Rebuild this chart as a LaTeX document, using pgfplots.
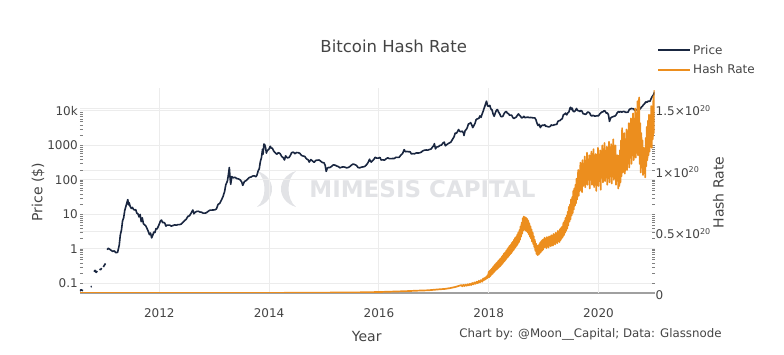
\documentclass[border=0pt]{standalone}
\usepackage{fontspec}
\setmainfont{DejaVu Sans}
\usepackage{pgfplots}
\pgfplotsset{compat=1.18}
\usepackage{pgfplotstable}
\definecolor{cprice}{RGB}{25,38,64}
\definecolor{chash}{RGB}{236,142,30}
\definecolor{ctext}{RGB}{68,68,68}
\definecolor{cgrid}{RGB}{236,236,236}
\definecolor{czero}{RGB}{160,160,160}
\definecolor{cwm}{RGB}{226,227,230}

\pgfplotstableread{
year price
2010.555 0.060
2010.57 0.066
2010.59 0.064
2010.61 0.062
2010.62 nan
2010.75 0.080
2010.77 0.082
2010.78 nan
2010.81 0.22
2010.83 0.24
2010.85 0.21
2010.87 0.23
2010.88 nan
2010.91 0.26
2010.93 0.25
2010.95 0.28
2010.96 nan
2010.98 0.30
2011.00 0.34
2011.02 0.38
2011.03 nan
2011.05 0.95
2011.07 1.05
2011.09 1.00
2011.12 0.92
2011.15 0.85
2011.18 0.88
2011.21 0.78
2011.24 0.80
2011.27 1.3
2011.29 2.6
2011.31 3.5
2011.33 6.5
2011.35 8.0
2011.37 13
2011.39 17
2011.41 22
2011.425 27
2011.44 19
2011.45 22
2011.47 17
2011.49 15
2011.51 16
2011.53 14
2011.55 13.5
2011.57 13.8
2011.59 11
2011.61 10.5
2011.63 8.5
2011.65 10
2011.67 6.2
2011.69 8
2011.71 5.4
2011.73 5.0
2011.75 4.8
2011.78 3.8
2011.80 3.2
2011.82 2.6
2011.84 2.9
2011.86 2.1
2011.88 2.5
2011.90 3.1
2011.92 3.0
2011.94 3.9
2011.96 3.8
2011.98 4.5
2012.00 5.3
2012.02 6.5
2012.04 6.9
2012.06 5.8
2012.08 5.9
2012.10 5.6
2012.12 4.6
2012.14 4.9
2012.16 4.9
2012.19 4.9
2012.22 4.6
2012.25 4.8
2012.28 5.0
2012.31 4.9
2012.34 5.1
2012.37 5.1
2012.40 5.3
2012.43 5.9
2012.46 6.6
2012.49 7.3
2012.52 8.8
2012.55 9.2
2012.58 11
2012.61 13.5
2012.63 10.5
2012.65 11.5
2012.68 12.3
2012.71 12.4
2012.74 11.8
2012.77 11.6
2012.80 10.9
2012.83 10.9
2012.86 11.3
2012.89 12.4
2012.92 13.3
2012.95 13.4
2012.98 13.5
2013.01 13.6
2013.04 14.5
2013.07 19.5
2013.10 21
2013.13 26
2013.16 33
2013.19 47
2013.21 72
2013.24 93
2013.26 150
2013.275 230
2013.29 110
2013.30 75
2013.32 125
2013.35 116
2013.38 120
2013.41 110
2013.44 108
2013.47 102
2013.50 88
2013.52 70
2013.55 90
2013.58 96
2013.61 106
2013.64 118
2013.67 122
2013.70 130
2013.73 132
2013.76 124
2013.78 140
2013.80 185
2013.82 210
2013.84 340
2013.86 440
2013.88 780
2013.89 560
2013.905 1100
2013.92 1050
2013.935 870
2013.95 600
2013.96 680
2013.98 740
2014.00 800
2014.02 950
2014.04 840
2014.06 830
2014.08 700
2014.11 620
2014.14 560
2014.17 620
2014.20 580
2014.23 480
2014.26 440
2014.28 380
2014.30 500
2014.33 440
2014.36 445
2014.39 525
2014.41 620
2014.44 640
2014.47 580
2014.50 625
2014.53 620
2014.56 590
2014.59 515
2014.62 495
2014.65 480
2014.68 410
2014.71 385
2014.73 330
2014.76 390
2014.79 355
2014.82 325
2014.85 370
2014.88 375
2014.91 380
2014.94 350
2014.97 320
2015.00 315
2015.02 270
2015.04 178
2015.06 220
2015.08 230
2015.11 230
2015.14 250
2015.17 275
2015.20 270
2015.23 255
2015.26 245
2015.29 225
2015.32 235
2015.35 240
2015.38 235
2015.41 225
2015.44 230
2015.47 245
2015.50 270
2015.53 290
2015.56 280
2015.59 265
2015.62 230
2015.65 225
2015.68 235
2015.71 240
2015.74 245
2015.77 270
2015.80 315
2015.83 400
2015.84 360
2015.86 330
2015.88 360
2015.91 400
2015.93 455
2015.96 430
2015.99 430
2016.02 450
2016.04 380
2016.07 385
2016.10 375
2016.13 410
2016.16 440
2016.19 415
2016.22 415
2016.25 420
2016.28 420
2016.31 455
2016.34 450
2016.37 455
2016.40 530
2016.43 580
2016.46 760
2016.48 660
2016.51 670
2016.54 660
2016.57 655
2016.59 570
2016.62 580
2016.65 575
2016.68 610
2016.71 605
2016.74 610
2016.77 640
2016.80 700
2016.83 730
2016.86 740
2016.89 735
2016.92 765
2016.95 790
2016.98 920
2017.00 1000
2017.01 1130
2017.03 800
2017.05 900
2017.08 920
2017.11 1000
2017.14 1030
2017.17 1190
2017.19 1250
2017.21 980
2017.23 1040
2017.26 1130
2017.29 1200
2017.31 1250
2017.34 1500
2017.37 1800
2017.39 2300
2017.41 2250
2017.43 2500
2017.45 2900
2017.47 2600
2017.49 2500
2017.52 2600
2017.54 2300
2017.55 1950
2017.57 2700
2017.59 2900
2017.61 3300
2017.63 4200
2017.65 4300
2017.67 4600
2017.69 4000
2017.71 3300
2017.73 3800
2017.75 4350
2017.77 5600
2017.79 5900
2017.82 6100
2017.84 7200
2017.86 6500
2017.88 8200
2017.90 9900
2017.91 11200
2017.93 13800
2017.95 17200
2017.96 19300
2017.98 14000
2018.00 13800
2018.02 14500
2018.04 11400
2018.06 10800
2018.08 8200
2018.10 7000
2018.12 8800
2018.14 10500
2018.16 11000
2018.18 9200
2018.20 8300
2018.22 7000
2018.24 6800
2018.26 7100
2018.28 8400
2018.30 9300
2018.32 9700
2018.34 8600
2018.36 8400
2018.38 7500
2018.40 7600
2018.42 7500
2018.44 6400
2018.46 6100
2018.48 6400
2018.50 6600
2018.52 7400
2018.54 8200
2018.56 7600
2018.58 7000
2018.60 6300
2018.62 6500
2018.64 7000
2018.66 6400
2018.68 6500
2018.70 6600
2018.72 6600
2018.74 6400
2018.76 6500
2018.78 6450
2018.80 6350
2018.84 6300
2018.86 5600
2018.88 4400
2018.90 3800
2018.92 4100
2018.94 3300
2018.96 3700
2018.98 3900
2019.00 3800
2019.02 4000
2019.04 3600
2019.06 3600
2019.08 3500
2019.10 3450
2019.12 3600
2019.14 3950
2019.16 3800
2019.18 3900
2019.20 4000
2019.22 4050
2019.24 4100
2019.26 5000
2019.28 5200
2019.30 5300
2019.32 5700
2019.34 6000
2019.36 7800
2019.38 8000
2019.40 8700
2019.42 7700
2019.44 8800
2019.46 9300
2019.48 12000
2019.49 12800
2019.51 11000
2019.52 12100
2019.54 9800
2019.56 9500
2019.58 10400
2019.60 11800
2019.62 10300
2019.64 10200
2019.66 9600
2019.68 10400
2019.70 9800
2019.72 8300
2019.74 8200
2019.76 8000
2019.78 8300
2019.80 9300
2019.82 9200
2019.84 8700
2019.86 7400
2019.88 7200
2019.90 7500
2019.92 7200
2019.94 7100
2019.96 7200
2019.98 7300
2020.00 7200
2020.02 8100
2020.04 8700
2020.06 9300
2020.08 9400
2020.10 10200
2020.12 9900
2020.14 8700
2020.16 8800
2020.18 7900
2020.20 5000
2020.22 6200
2020.24 6600
2020.26 6800
2020.28 7000
2020.30 7100
2020.32 7700
2020.34 8800
2020.36 9600
2020.38 9300
2020.40 9700
2020.42 9200
2020.44 9500
2020.46 9700
2020.48 9400
2020.50 9100
2020.52 9200
2020.54 9300
2020.56 11000
2020.58 11500
2020.60 11800
2020.62 11700
2020.64 11500
2020.66 10400
2020.68 10700
2020.70 10800
2020.72 10600
2020.74 11300
2020.76 11500
2020.78 12900
2020.80 13700
2020.82 15300
2020.84 16300
2020.86 18400
2020.88 17800
2020.90 19200
2020.92 19100
2020.94 19300
2020.96 23100
2020.98 26500
2021.00 29000
2021.02 36000
}\pricetable

% hash rate in units of 1e20 H/s
\pgfplotstableread{
year hash
2010.555 0
2012.00 0.00001
2013.00 0.0001
2014.00 0.0005
2015.00 0.003
2015.50 0.004
2016.00 0.008
2016.30 0.012
2016.50 0.015
2016.70 0.019
2016.90 0.022
2017.00 0.026
2017.10 0.030
2017.20 0.033
2017.30 0.040
2017.40 0.050
2017.50 0.064
2017.52 0.055
2017.54 0.066
2017.56 0.057
2017.58 0.068
2017.60 0.059
2017.62 0.071
2017.64 0.062
2017.66 0.075
2017.68 0.065
2017.70 0.081
2017.72 0.070
2017.74 0.086
2017.76 0.075
2017.78 0.092
2017.80 0.080
2017.82 0.099
2017.84 0.086
2017.86 0.105
2017.88 0.092
2017.90 0.118
2017.91 0.104
2017.92 0.120
2017.93 0.108
2017.94 0.126
2017.95 0.114
2017.96 0.133
2017.97 0.120
2017.98 0.145
2017.99 0.128
2018.00 0.172
2018.01 0.128
2018.02 0.182
2018.03 0.138
2018.04 0.190
2018.05 0.148
2018.06 0.200
2018.07 0.156
2018.08 0.212
2018.09 0.166
2018.10 0.224
2018.11 0.176
2018.12 0.234
2018.13 0.186
2018.14 0.244
2018.15 0.193
2018.16 0.252
2018.17 0.202
2018.18 0.264
2018.19 0.210
2018.20 0.274
2018.21 0.218
2018.22 0.282
2018.23 0.228
2018.24 0.296
2018.25 0.238
2018.26 0.307
2018.27 0.250
2018.28 0.322
2018.29 0.260
2018.30 0.330
2018.31 0.270
2018.32 0.344
2018.33 0.283
2018.34 0.357
2018.35 0.293
2018.36 0.370
2018.37 0.303
2018.38 0.382
2018.39 0.314
2018.40 0.392
2018.41 0.323
2018.42 0.407
2018.43 0.336
2018.44 0.417
2018.45 0.348
2018.46 0.432
2018.47 0.360
2018.48 0.447
2018.49 0.373
2018.50 0.457
2018.51 0.383
2018.52 0.474
2018.53 0.398
2018.54 0.492
2018.55 0.413
2018.56 0.512
2018.57 0.433
2018.58 0.542
2018.59 0.458
2018.60 0.572
2018.61 0.483
2018.62 0.607
2018.63 0.508
2018.64 0.622
2018.65 0.518
2018.66 0.617
2018.67 0.508
2018.68 0.612
2018.69 0.503
2018.70 0.602
2018.71 0.493
2018.72 0.587
2018.73 0.478
2018.74 0.567
2018.75 0.458
2018.76 0.542
2018.77 0.443
2018.78 0.517
2018.79 0.418
2018.80 0.492
2018.81 0.398
2018.82 0.462
2018.83 0.373
2018.84 0.432
2018.85 0.343
2018.86 0.402
2018.87 0.318
2018.88 0.387
2018.89 0.308
2018.90 0.382
2018.91 0.313
2018.92 0.397
2018.93 0.323
2018.94 0.412
2018.95 0.333
2018.96 0.422
2018.97 0.343
2018.98 0.432
2018.99 0.353
2019.00 0.437
2019.01 0.370
2019.02 0.450
2019.03 0.375
2019.04 0.440
2019.05 0.365
2019.06 0.455
2019.07 0.380
2019.08 0.450
2019.09 0.370
2019.10 0.460
2019.11 0.385
2019.12 0.455
2019.13 0.380
2019.14 0.470
2019.15 0.390
2019.16 0.465
2019.17 0.385
2019.18 0.480
2019.19 0.400
2019.20 0.475
2019.21 0.395
2019.22 0.490
2019.23 0.410
2019.24 0.485
2019.25 0.405
2019.26 0.505
2019.27 0.420
2019.28 0.500
2019.29 0.415
2019.30 0.520
2019.31 0.430
2019.32 0.530
2019.33 0.445
2019.34 0.540
2019.35 0.455
2019.36 0.570
2019.37 0.470
2019.38 0.585
2019.39 0.490
2019.40 0.610
2019.41 0.505
2019.42 0.630
2019.43 0.525
2019.44 0.660
2019.45 0.550
2019.46 0.700
2019.47 0.580
2019.48 0.720
2019.49 0.600
2019.50 0.760
2019.51 0.630
2019.52 0.780
2019.53 0.650
2019.54 0.830
2019.55 0.680
2019.56 0.850
2019.57 0.710
2019.58 0.880
2019.59 0.730
2019.60 0.930
2019.61 0.760
2019.62 0.900
2019.63 1.000
2019.64 0.790
2019.65 0.950
2019.66 0.830
2019.67 1.060
2019.68 0.840
2019.69 0.980
2019.70 0.820
2019.71 1.080
2019.72 0.870
2019.73 1.020
2019.74 0.880
2019.75 1.110
2019.76 0.860
2019.77 1.040
2019.78 0.900
2019.79 1.140
2019.80 0.880
2019.81 1.060
2019.82 0.930
2019.83 1.120
2019.84 0.850
2019.85 1.080
2019.86 0.920
2019.87 1.150
2019.88 0.880
2019.89 1.060
2019.90 0.950
2019.91 1.170
2019.92 0.860
2019.93 1.100
2019.94 0.960
2019.95 1.130
2019.96 0.830
2019.97 1.090
2019.98 0.940
2019.99 1.180
2020.00 0.870
2020.01 1.080
2020.02 0.920
2020.03 1.160
2020.04 0.840
2020.05 1.120
2020.06 0.970
2020.07 1.200
2020.08 0.900
2020.09 1.140
2020.10 0.990
2020.11 1.220
2020.12 0.910
2020.13 1.150
2020.14 0.960
2020.15 1.190
2020.16 0.880
2020.17 1.130
2020.18 0.990
2020.19 1.230
2020.20 0.900
2020.21 1.100
2020.22 0.960
2020.23 1.210
2020.24 0.890
2020.25 1.170
2020.26 1.000
2020.27 1.250
2020.28 0.920
2020.29 1.180
2020.30 1.010
2020.31 1.200
2020.32 0.880
2020.33 1.080
2020.34 0.930
2020.35 1.120
2020.36 0.850
2020.37 1.030
2020.38 0.870
2020.39 1.160
2020.40 0.900
2020.41 1.240
2020.42 0.950
2020.43 1.340
2020.44 0.980
2020.45 1.200
2020.46 1.030
2020.47 1.300
2020.48 0.970
2020.49 1.250
2020.50 1.060
2020.51 1.330
2020.52 1.000
2020.53 1.280
2020.54 1.080
2020.55 1.380
2020.56 1.020
2020.57 1.300
2020.58 1.110
2020.59 1.420
2020.60 1.050
2020.61 1.350
2020.62 1.150
2020.63 1.460
2020.64 1.080
2020.65 1.380
2020.66 1.180
2020.67 1.500
2020.68 1.100
2020.69 1.420
2020.70 1.200
2020.71 1.560
2020.72 1.120
2020.73 1.450
2020.74 1.590
2020.75 1.050
2020.76 1.380
2020.77 0.980
2020.78 1.300
2020.79 1.020
2020.80 1.240
2020.81 0.960
2020.82 1.180
2020.83 0.990
2020.84 1.150
2020.85 0.940
2020.86 1.260
2020.87 1.030
2020.88 1.350
2020.89 1.080
2020.90 1.400
2020.91 1.120
2020.92 1.450
2020.93 1.150
2020.94 1.380
2020.95 1.200
2020.96 1.520
2020.97 1.180
2020.98 1.480
2020.99 1.250
2021.00 1.600
2021.01 1.300
2021.02 1.650
}\hashtable

\begin{document}
\begin{tikzpicture}[x=1pt,y=1pt]
\useasboundingbox (0,0) rectangle (784,355);
% watermark
\fill[cwm] (257,184) .. controls (277,178) and (277,154) .. (257,148) .. controls (267,156) and (267,176) .. (257,184);
\fill[cwm] (296,184) .. controls (276,178) and (276,154) .. (296,148) .. controls (286,156) and (286,176) .. (296,184);
\node[font=\bfseries\fontsize{23}{23}\selectfont, text=cwm, inner sep=0pt] at (422.5,166) {MIMESIS CAPITAL};

\pgfplotsset{
  common/.style={
    at={(80pt,62pt)}, anchor=south west,
    scale only axis, width=574.5pt, height=205pt,
    xmin=2010.555, xmax=2021.02,
    axis line style={draw=none},
    major tick length=0pt,
    tick label style={font=\fontsize{12}{14}\selectfont, text=ctext},
    /pgf/number format/assume math mode=true,
    /pgf/number format/1000 sep={},
    grid style={cgrid, line width=1pt},
  }
}
% hash-rate grid and right tick labels (drawn first, underneath)
\begin{axis}[common,
  ymin=0, ymax=1.667,
  xtick=\empty,
  yticklabel pos=right,
  ytick={0.5,1,1.5},
  yticklabels={0.5×10\textsuperscript{20},1×10\textsuperscript{20},1.5×10\textsuperscript{20}},
  extra y ticks={0},
  extra y tick labels={0},
  extra y tick style={grid=major, major grid style={czero, line width=1.2pt},
    yticklabel style={yshift=0pt}},
  yticklabel style={inner sep=1pt, yshift=-2pt},
  ymajorgrids,
]
\addplot[draw=none] coordinates {(2012,0.5)};
\end{axis}

% price axis
\begin{axis}[common,
  ymode=log, ymin=0.053, ymax=46400,
  xtick={2012,2014,2016,2018,2020},
  xticklabels={2012,2014,2016,2018,2020},
  xticklabel style={inner sep=0pt, yshift=-15.5pt},
  ytick={0.1,1,10,100,1000,10000},
  yticklabels={0.1,1,10,100,1000,10k},
  yticklabel style={inner sep=2pt},
  xmajorgrids, ymajorgrids,
  unbounded coords=jump,
]
\addplot[cprice, line width=1.6pt, line join=round] table[x=year, y=price] {\pricetable};
\end{axis}

% hash-rate series
\begin{axis}[common,
  ymin=0, ymax=1.667,
  xtick=\empty, ytick=\empty,
  legend style={at={(1.0044,1.22)}, anchor=north west, draw=none, fill=none,
    inner sep=0pt, font=\fontsize{12}{14}\selectfont, text=ctext,
    row sep=4.5pt, cells={anchor=west}},
  legend image code/.code={\draw[#1] (0pt,0pt) -- (29pt,0pt); \path (0pt,0pt) -- (32pt,0pt);},
]
\addlegendimage{cprice, line width=2pt}
\addlegendentry{Price}
\addlegendimage{chash, line width=2pt}
\addlegendentry{Hash Rate}
\addplot[chash, line width=1.7pt, line join=round, forget plot] table[x=year, y=hash] {\hashtable};
\end{axis}

\node[font=\fontsize{16.5}{18}\selectfont, text=ctext] at (393.7,309) {Bitcoin Hash Rate};
\node[rotate=90, font=\fontsize{14}{16}\selectfont, text=ctext] at (38,163) {Price (\$)};
\node[rotate=90, font=\fontsize{14}{16}\selectfont, text=ctext] at (718.5,162.5) {Hash Rate};
\node[font=\fontsize{14}{16}\selectfont, text=ctext] at (366.7,19) {Year};
\node[font=\fontsize{11.8}{14}\selectfont, text=ctext] at (590.5,21) {Chart by: @Moon\_\_Capital; Data: Glassnode};
\end{tikzpicture}
\end{document}
